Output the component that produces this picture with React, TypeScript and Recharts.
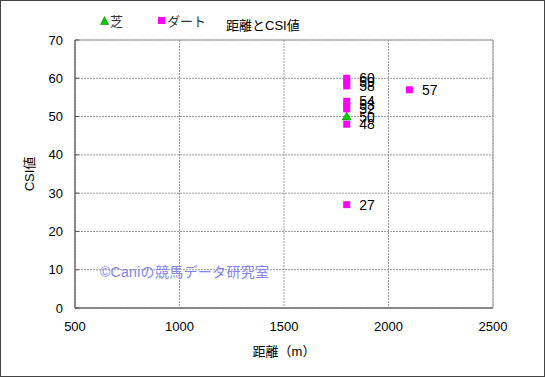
import {
  ScatterChart, Scatter, XAxis, YAxis, CartesianGrid,
  ReferenceArea, LabelList
} from "recharts";

const X_TICKS = [500, 1000, 1500, 2000, 2500];
const Y_TICKS = [0, 10, 20, 30, 40, 50, 60, 70];

const TURF_DIST = [1800];
const TURF_CSI = [50];

const DIRT_DIST = [1800, 1800, 1800, 1800, 1800, 1800, 1800, 1800, 2100];
const DIRT_CSI = [60, 59, 58, 54, 53, 52, 48, 27, 57];

const SERIES_NAMES = ["芝", "ダート"];

const FONT = '"Liberation Sans", "Noto Sans CJK JP", sans-serif';

const turfData = TURF_DIST.map((d, i) => ({ dist: d, csi: TURF_CSI[i] }));
const dirtData = DIRT_DIST.map((d, i) => ({ dist: d, csi: DIRT_CSI[i] }));

function Triangle({ cx, cy }: any) {
  return <polygon points={`${cx},${cy - 4.5} ${cx + 4.5},${cy + 3.5} ${cx - 4.5},${cy + 3.5}`} fill="#00cc00" stroke="#006600" strokeWidth={0.5} />;
}

function Square({ cx, cy }: any) {
  return <rect x={cx - 3.5} y={cy - 3.5} width={7} height={7} fill="#ff00ff" />;
}

const labelStyle = { fontSize: 14, fill: "#000", fontFamily: FONT };

export default function App() {
  return (
    <div style={{ position: "absolute", left: 0, top: 0, width: 545, height: 377, background: "#fff", fontFamily: FONT }}>
      <ScatterChart width={545} height={377} margin={{ top: 40, right: 52, bottom: 39, left: 35 }}>
        <CartesianGrid stroke="#9a9a9a" strokeDasharray="2 1" />
        <ReferenceArea x1={500} x2={2500} y1={0} y2={70} fill="none" stroke="#a0a0a0" strokeWidth={1} ifOverflow="visible" />
        <XAxis
          type="number"
          dataKey="dist"
          domain={[500, 2500]}
          ticks={X_TICKS}
          tickLine={false}
          tickMargin={8}
          axisLine={{ stroke: "#555" }}
          tick={{ fontSize: 13, fill: "#000", fontFamily: FONT }}
          height={30}
          label={{ value: "距離（m）", position: "bottom", offset: 9, fontSize: 13, fill: "#000", fontFamily: FONT }}
        />
        <YAxis
          type="number"
          dataKey="csi"
          domain={[0, 70]}
          ticks={Y_TICKS}
          width={40}
          tickSize={-4}
          tickMargin={16}
          tickLine={{ stroke: "#555" }}
          axisLine={{ stroke: "#555" }}
          tick={{ fontSize: 13, fill: "#000", fontFamily: FONT }}
          label={{ value: "CSI値", angle: -90, position: "insideLeft", offset: -6, style: { textAnchor: "middle" }, fontSize: 13, fill: "#000", fontFamily: FONT }}
        />
        <Scatter name={SERIES_NAMES[0]} data={turfData} shape={<Triangle />} fill="#00cc00" isAnimationActive={false}>
          <LabelList dataKey="csi" position="right" offset={8} fill="#000" style={labelStyle} />
        </Scatter>
        <Scatter name={SERIES_NAMES[1]} data={dirtData} shape={<Square />} fill="#ff00ff" isAnimationActive={false}>
          <LabelList dataKey="csi" position="right" offset={8} fill="#000" style={labelStyle} />
        </Scatter>
      </ScatterChart>
      <div style={{ position: "absolute", left: 100, top: 11, display: "flex", gap: 34, fontSize: 13, color: "#333" }}>
        {SERIES_NAMES.map((n, i) => (
          <span key={n} style={{ display: "flex", alignItems: "center" }}>
            <svg width={9} height={9} style={{ marginRight: 1 }}>
              {i === 0
                ? <polygon points="4.5,0.5 8.5,8.5 0.5,8.5" fill="#00cc00" stroke="#006600" strokeWidth={0.5} />
                : <rect x={1} y={1} width={7} height={7} fill="#ff00ff" />}
            </svg>
            {n}
          </span>
        ))}
      </div>
      <div style={{ position: "absolute", left: 226, top: 15, fontSize: 13, color: "#000" }}>
        距離とCSI値
      </div>
      <div style={{ position: "absolute", left: 100, top: 261, fontSize: 14, color: "#8484ec", letterSpacing: 0.3 }}>
        ©Caniの競馬データ研究室
      </div>
      <div style={{ position: "absolute", left: 0, top: 0, width: 545, height: 377, boxSizing: "border-box", border: "1px solid #444", pointerEvents: "none" }} />
    </div>
  );
}
